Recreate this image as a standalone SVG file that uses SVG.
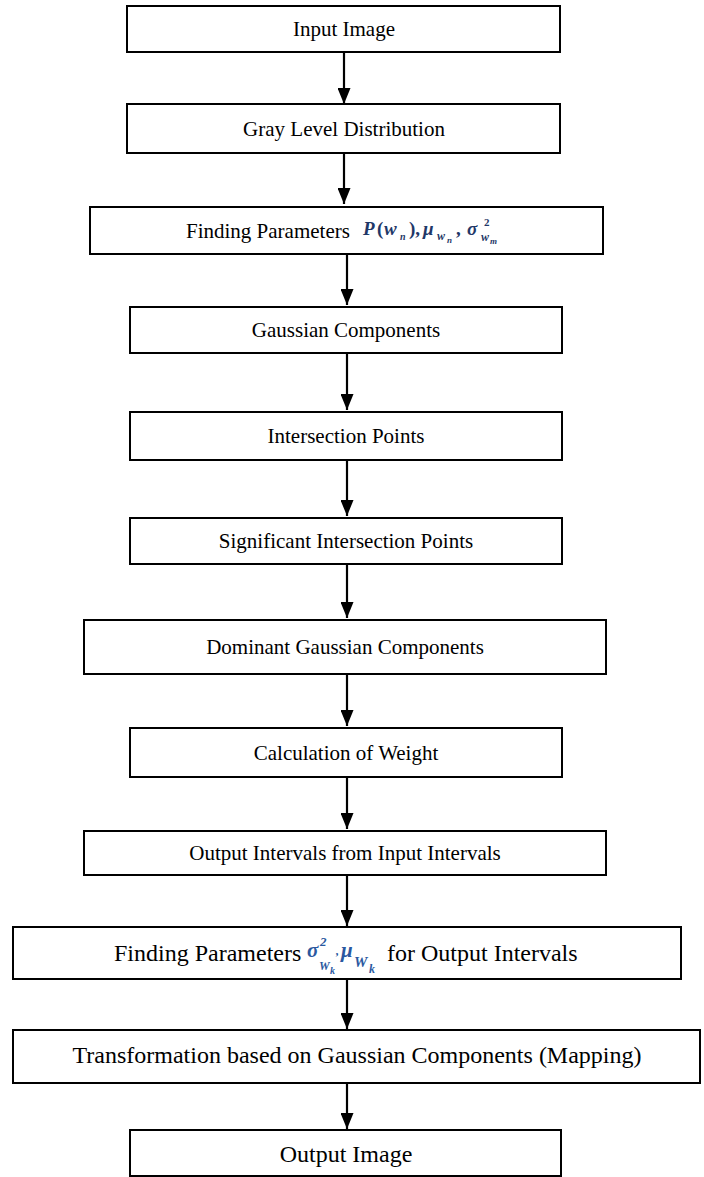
<svg xmlns="http://www.w3.org/2000/svg" width="704" height="1177" viewBox="0 0 704 1177">
<style>
.box{fill:#fff;stroke:#000;stroke-width:2}
.t{font-family:"Liberation Serif","Times New Roman",serif;font-size:21px;fill:#000;text-anchor:middle}
.tl{font-family:"Liberation Serif","Times New Roman",serif;font-size:21px;fill:#000}
.big{font-size:24px}
.m{font-family:"Liberation Serif","Times New Roman",serif;font-style:italic;font-weight:bold;fill:#1f3868}
.mn{font-family:"Liberation Serif","Times New Roman",serif;font-weight:bold;fill:#1f3868}
.m2{font-family:"Liberation Serif","Times New Roman",serif;font-style:italic;font-weight:bold;fill:#2a58a0}
.c{stroke:#000;stroke-width:2.2;fill:none}
</style>
<defs>
<marker id="ah" viewBox="0 0 16 13" refX="16" refY="6.5" markerWidth="16" markerHeight="13" markerUnits="userSpaceOnUse" orient="auto">
<path d="M0,0 L16,6.5 L0,13 Z" fill="#000"/>
</marker>
</defs>
<rect width="704" height="1177" fill="#fff"/>
<g id="connectors">
<line class="c" x1="344" y1="52" x2="344" y2="104" marker-end="url(#ah)"/>
<line class="c" x1="344" y1="153" x2="344" y2="204" marker-end="url(#ah)"/>
<line class="c" x1="347" y1="254" x2="347" y2="305" marker-end="url(#ah)"/>
<line class="c" x1="347" y1="353" x2="347" y2="410" marker-end="url(#ah)"/>
<line class="c" x1="347" y1="460" x2="347" y2="516" marker-end="url(#ah)"/>
<line class="c" x1="347" y1="564" x2="347" y2="618" marker-end="url(#ah)"/>
<line class="c" x1="347" y1="674" x2="347" y2="726" marker-end="url(#ah)"/>
<line class="c" x1="347" y1="777" x2="347" y2="829" marker-end="url(#ah)"/>
<line class="c" x1="347" y1="875" x2="347" y2="926" marker-end="url(#ah)"/>
<line class="c" x1="347" y1="979" x2="347" y2="1029" marker-end="url(#ah)"/>
<line class="c" x1="347" y1="1083" x2="347" y2="1129" marker-end="url(#ah)"/>
</g>
<g id="n1"><rect class="box" x="127" y="6" width="433" height="46"/><text class="t" x="344" y="36">Input Image</text></g>
<g id="n2"><rect class="box" x="127" y="104" width="433" height="49"/><text class="t" x="344" y="136">Gray Level Distribution</text></g>
<g id="n3"><rect class="box" x="90" y="207" width="513" height="47"/>
<text class="tl" x="186" y="238">Finding Parameters</text>
<text class="m" x="363" y="235" font-size="19">P</text>
<text class="mn" x="377" y="235" font-size="19" font-weight="normal">(</text>
<text class="m" x="384" y="235" font-size="19">w</text>
<text class="m" x="400" y="240" font-size="10">n</text>
<text class="mn" x="409" y="235" font-size="19" font-weight="normal">),</text>
<text class="m" x="423" y="235" font-size="19">μ</text>
<text class="m" x="437" y="240" font-size="12">w</text>
<text class="m" x="447" y="243" font-size="9">n</text>
<text class="mn" x="456" y="235" font-size="19" font-weight="normal">,</text>
<text class="m" x="467" y="235" font-size="19">σ</text>
<text class="mn" x="484" y="226" font-size="11">2</text>
<text class="m" x="481" y="241" font-size="12">w</text>
<text class="m" x="490" y="244" font-size="9">m</text>
</g>
<g id="n4"><rect class="box" x="130" y="307" width="432" height="46"/><text class="t" x="346" y="337">Gaussian Components</text></g>
<g id="n5"><rect class="box" x="130" y="412" width="432" height="48"/><text class="t" x="346" y="443">Intersection Points</text></g>
<g id="n6"><rect class="box" x="130" y="518" width="432" height="46"/><text class="t" x="346" y="548">Significant Intersection Points</text></g>
<g id="n7"><rect class="box" x="84" y="620" width="522" height="54"/><text class="t" x="345" y="654">Dominant Gaussian Components</text></g>
<g id="n8"><rect class="box" x="130" y="728" width="432" height="49"/><text class="t" x="346" y="760">Calculation of Weight</text></g>
<g id="n9"><rect class="box" x="84" y="831" width="522" height="44"/><text class="t" x="345" y="860">Output Intervals from Input Intervals</text></g>
<g id="n10"><rect class="box" x="13" y="927" width="668" height="52"/>
<text class="tl big" x="114" y="961" font-size="23.5">Finding Parameters</text>
<text class="m2" x="307" y="957" font-size="21">σ</text>
<text class="m2" x="320" y="946" font-size="13">2</text>
<text class="m2" x="319" y="970" font-size="12">W</text>
<text class="m2" x="330" y="974" font-size="10">k</text>
<text class="m2" x="336" y="955" font-size="12" font-style="normal">,</text>
<text class="m2" x="341" y="957" font-size="21">μ</text>
<text class="m2" x="354" y="967" font-size="15">W</text>
<text class="m2" x="369" y="973" font-size="12">k</text>
<text class="tl big" x="387" y="961">for Output Intervals</text>
</g>
<g id="n11"><rect class="box" x="13" y="1030" width="687" height="53"/><text class="t big" x="357" y="1063">Transformation based on Gaussian Components (Mapping)</text></g>
<g id="n12"><rect class="box" x="130" y="1130" width="431" height="46"/><text class="t big" x="346" y="1162">Output Image</text></g>
</svg>
